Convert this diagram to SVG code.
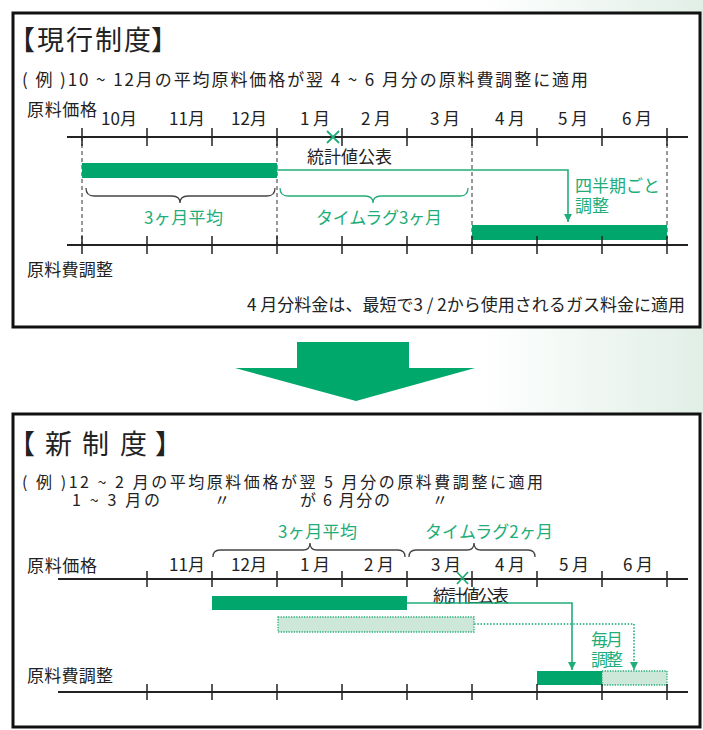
<svg xmlns="http://www.w3.org/2000/svg" width="703" height="730" viewBox="0 0 703 730">
<defs>
<linearGradient id="bgGrad" gradientUnits="userSpaceOnUse" x1="480" y1="0" x2="703" y2="0">
<stop offset="0" stop-color="#ffffff"/>
<stop offset="1" stop-color="#e1efe7"/>
</linearGradient>
<marker id="arrowG" markerUnits="userSpaceOnUse" markerWidth="8" markerHeight="9" refX="8" refY="4" orient="auto" viewBox="0 0 8 8">
<path d="M0,0 L8,4 L0,8 z" fill="#22ad78"/>
</marker>
<style>
text{font-family:"Noto Sans CJK JP","Noto Sans",sans-serif;fill:#222;}
.title{font-size:27px;}
.sub{font-size:17px;}
.sub2{font-size:16px;}
.lbl{font-size:17px;}
.mon{font-size:17px;text-anchor:middle;}
.g{fill:#22ad78;}
.box{fill:#fff;stroke:#111;stroke-width:3;}
.axis{stroke:#222;stroke-width:2;fill:none;}
.tick{stroke:#222;stroke-width:1.5;fill:none;}
.dash{stroke:#333;stroke-width:1;stroke-dasharray:4 3;fill:none;}
.bar{fill:#00a66b;}
.lbar{fill:#cde8d9;stroke:#22ad78;stroke-width:1.3;stroke-dasharray:1.3 1.3;}
.brace{fill:none;stroke:#444;stroke-width:1.3;}
.braceG{fill:none;stroke:#22ad78;stroke-width:1.3;}
.conn{fill:none;stroke:#22ad78;stroke-width:1.6;}
.connD{fill:none;stroke:#22ad78;stroke-width:1.6;stroke-dasharray:1.6 1.6;}
.cross{stroke:#22ad78;stroke-width:1.8;fill:none;}
</style>
</defs>
<rect x="0" y="0" width="703" height="414" fill="url(#bgGrad)"/>

<g id="current-system">
<rect class="box" x="13" y="13" width="687" height="314"/>
<text class="title" y="50"><tspan x="8">【</tspan><tspan x="37" textLength="114">現行制度</tspan><tspan x="151">】</tspan></text>
<text class="sub" x="22" y="86" textLength="566" lengthAdjust="spacing">( 例 )10 ~ 12月の平均原料価格が翌 4 ~ 6 月分の原料費調整に適用</text>
<text class="lbl" x="27" y="116" textLength="70">原料価格</text>
<text class="mon" x="119" y="125">10月</text>
<text class="mon" x="187" y="125">11月</text>
<text class="mon" x="249" y="125">12月</text>
<text class="mon" x="315" y="125">1 月</text>
<text class="mon" x="376" y="125">2 月</text>
<text class="mon" x="445" y="125">3 月</text>
<text class="mon" x="510" y="125">4 月</text>
<text class="mon" x="573" y="125">5 月</text>
<text class="mon" x="637" y="125">6 月</text>
<path class="dash" d="M82,137V245M277,137V245M472,137V245M667,137V245"/>
<path class="axis" d="M67,137H688"/>
<path class="tick" d="M82,128V146M147,128V146M212,128V146M277,128V146M342,128V146M407,128V146M472,128V146M537,128V146M602,128V146M667,128V146"/>
<path class="cross" d="M327,131L339,143M339,131L327,143"/>
<text class="lbl" x="307" y="163" textLength="85">統計値公表</text>
<rect class="bar" x="82" y="163" width="195" height="15"/>
<path class="brace" d="M86,188Q86,196 94,196L172,196Q180,196 180,203Q180,196 188,196L267,196Q275,196 275,188"/>
<path class="braceG" d="M280,188Q280,196 288,196L365,196Q373,196 373,203Q373,196 381,196L460,196Q468,196 468,188"/>
<text class="lbl g" x="144" y="224" textLength="79">3ヶ月平均</text>
<text class="lbl g" x="316" y="224" textLength="126">タイムラグ3ヶ月</text>
<text class="lbl g" x="575" y="192" textLength="85">四半期ごと</text>
<text class="lbl g" x="575" y="212" textLength="34">調整</text>
<rect class="bar" x="472" y="225" width="195" height="15"/>
<path class="axis" d="M67,245H688"/>
<path class="tick" d="M82,236V254M147,236V254M212,236V254M277,236V254M342,236V254M407,236V254M472,236V254M537,236V254M602,236V254M667,236V254"/>
<text class="lbl" x="27" y="276" textLength="86">原料費調整</text>
<text class="lbl" x="247" y="311" textLength="438">4 月分料金は、最短で3 / 2から使用されるガス料金に適用</text>
</g>

<g id="transition-arrow">
<polygon points="297,342 409,342 409,368 475,368 356,401 235,368 297,368" fill="#00a86b"/>
</g>

<g id="new-system">
<rect class="box" x="13" y="414" width="687" height="313"/>
<text class="title" y="454"><tspan x="8">【</tspan><tspan x="45">新</tspan><tspan x="82">制</tspan><tspan x="120">度</tspan><tspan x="155">】</tspan></text>
<text class="sub2" x="22" y="488" textLength="521" lengthAdjust="spacing">( 例 )12 ~ 2 月の平均原料価格が翌 5 月分の原料費調整に適用</text>
<text class="sub2" x="72" y="506" textLength="88">1 ~ 3 月の</text>
<text class="sub2" x="222" y="506" text-anchor="middle">〃</text>
<text class="sub2" x="300" y="506" textLength="90">が 6 月分の</text>
<text class="sub2" x="440" y="506" text-anchor="middle">〃</text>
<text class="lbl g" x="278" y="538" textLength="79">3ヶ月平均</text>
<text class="lbl g" x="425" y="538" textLength="128">タイムラグ2ヶ月</text>
<path class="brace" d="M213,557Q213,550 220,550L303,550Q310,550 310,543Q310,550 317,550L398,550Q405,550 405,557"/>
<path class="brace" d="M409,557Q409,550 416,550L467,550Q474,550 474,543Q474,550 481,550L528,550Q535,550 535,557"/>
<text class="lbl" x="27" y="572" textLength="70">原料価格</text>
<text class="mon" x="187" y="571">11月</text>
<text class="mon" x="249" y="571">12月</text>
<text class="mon" x="315" y="571">1 月</text>
<text class="mon" x="379" y="571">2 月</text>
<text class="mon" x="446" y="571">3 月</text>
<text class="mon" x="510" y="571">4 月</text>
<text class="mon" x="574" y="571">5 月</text>
<text class="mon" x="638" y="571">6 月</text>
<path class="axis" d="M58,579H688"/>
<path class="tick" d="M147,571V587M212,571V587M277,571V587M342,571V587M407,571V587M472,571V587M537,571V587M602,571V587M667,571V587"/>
<path class="cross" d="M457,572L468,584M468,572L457,584"/>
<text class="lbl" x="433" y="602" font-size="15.5" textLength="76">統計値公表</text>
<rect class="bar" x="212" y="596" width="195" height="14"/>
<rect class="lbar" x="278" y="617" width="196" height="15"/>
<text class="lbl g" x="591" y="646" textLength="32">毎月</text>
<text class="lbl g" x="591" y="666" textLength="32">調整</text>
<rect class="bar" x="537" y="671" width="65" height="14"/>
<rect class="lbar" x="602" y="671" width="65" height="14"/>
<text class="lbl" x="27" y="682" textLength="86">原料費調整</text>
<path class="axis" d="M58,692H688"/>
<path class="tick" d="M147,684V700M212,684V700M277,684V700M342,684V700M407,684V700M472,684V700M537,684V700M602,684V700M667,684V700"/>
</g>

<g id="connectors">
<path class="conn" d="M277,170H568V222" marker-end="url(#arrowG)"/>
<path class="conn" d="M407,603H572V670" marker-end="url(#arrowG)"/>
<path class="connD" d="M474,624H634V670" marker-end="url(#arrowG)"/>
</g>
</svg>
